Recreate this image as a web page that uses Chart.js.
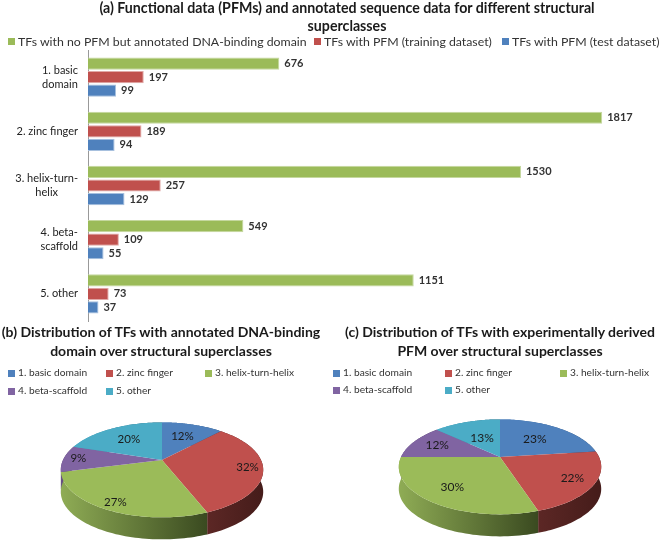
<!DOCTYPE html>
<html>
<head>
<meta charset="utf-8">
<script src="https://cdn.jsdelivr.net/npm/chart.js@4"></script>
<style>
    html, body { margin: 0; background: #fff; overflow: hidden; }
    body { width: 661px; height: 544px; position: relative; font-family: Lato, sans-serif; color: #1a1a1a; }
    canvas { position: absolute; }
    .title { position: absolute; text-align: center; font-weight: bold; white-space: nowrap; z-index: 2; }
    .legend { position: absolute; white-space: nowrap; z-index: 2; color: #333; }
    .legend i { position: absolute; top: 4px; left: 0; width: 7px; height: 7px; }
    .legend span { position: absolute; top: 0; left: 10px; }
</style>
</head>
<body>
<div class="title" style="left:58px;top:-1px;width:578px;font-size:14.2px;line-height:18px">(a) Functional data (PFMs) and annotated sequence data for different structural<br>superclasses</div>
<div class="title" style="left:-1px;top:322px;width:324px;font-size:14px;line-height:19px">(b) Distribution of TFs with annotated DNA-binding<br>domain over structural superclasses</div>
<div class="title" style="left:338px;top:322px;width:324px;font-size:14px;line-height:19px">(c) Distribution of TFs with experimentally derived<br>PFM over structural superclasses</div>
<canvas id="bars" width="661" height="330" style="left:0;top:0"></canvas>
<canvas id="pieB" width="240" height="200" style="left:42px;top:360px"></canvas>
<canvas id="pieC" width="240" height="200" style="left:380px;top:357px"></canvas>
<script>
const categories = ['1. basic domain', '2. zinc finger', '3. helix-turn-helix', '4. beta-scaffold', '5. other'];
const tickLabels = [['1. basic', 'domain'], ['2. zinc finger'], ['3. helix-turn-', 'helix'], ['4. beta-', 'scaffold'], ['5. other']];
const seriesNames = ['TFs with no PFM but annotated DNA-binding domain', 'TFs with PFM (training dataset)', 'TFs with PFM (test dataset)'];
const noPfm = [676, 1817, 1530, 549, 1151];
const training = [197, 189, 257, 109, 73];
const test = [99, 94, 129, 55, 37];
const annotatedShare = [12, 32, 27, 9, 20];
const derivedShare = [23, 22, 30, 12, 13];

const GREEN = '#9bbb59', RED = '#c0504d', BLUE = '#4f81bd', PURPLE = '#8064a2', TEAL = '#4bacc6';
const pieColors = [BLUE, RED, GREEN, PURPLE, TEAL];
const pieWalls = [['#4f81bd', '#24405f'], ['#5c2725', '#451c1a'], ['#8fac55', '#3a4a20'], ['#6a5288', '#3c2e4f'], ['#4bacc6', '#24566a']];

function addLegend(names, colors, xs, ys, font) {
    names.forEach((name, i) => {
        const el = document.createElement('div');
        el.className = 'legend';
        el.style.cssText = `left:${xs[i]}px;top:${ys[i]}px;font-size:${font}px`;
        el.innerHTML = `<i style="background:${colors[i]}"></i><span>${name}</span>`;
        document.body.appendChild(el);
    });
}
addLegend(seriesNames, [GREEN, RED, BLUE], [8, 314, 502], [34, 34, 34], 12.3);
addLegend(categories, pieColors, [8, 106, 205, 8, 106], [366, 366, 366, 384, 384], 10.2);
addLegend(categories, pieColors, [333, 445, 560, 333, 445], [366, 366, 366, 383, 383], 10.2);

// right edge of the label block sits at x=78, lines centred inside it
const yLabels = {
    id: 'yLabels',
    afterDraw(chart) {
        const { ctx, scales: { y } } = chart;
        ctx.save();
        ctx.font = '11px Lato';
        ctx.fillStyle = '#222';
        ctx.textAlign = 'center';
        ctx.textBaseline = 'middle';
        tickLabels.forEach((lines, i) => {
            const w = Math.max(...lines.map(l => ctx.measureText(l).width));
            const top = y.getPixelForTick(i) - (lines.length - 1) * 7;
            lines.forEach((l, j) => ctx.fillText(l, 78 - w / 2, top + j * 14));
        });
        ctx.restore();
    },
};

const barValues = {
    id: 'barValues',
    afterDatasetsDraw(chart) {
        const { ctx } = chart;
        ctx.save();
        ctx.font = 'bold 11px Lato';
        ctx.fillStyle = '#333';
        ctx.textBaseline = 'middle';
        chart.data.datasets.forEach((ds, d) => {
            chart.getDatasetMeta(d).data.forEach((bar, i) => ctx.fillText(ds.data[i], bar.x + 5, bar.y));
        });
        ctx.restore();
    },
};

new Chart(document.getElementById('bars'), {
    type: 'bar',
    data: {
        labels: categories,
        datasets: [
            { label: seriesNames[0], data: noPfm, backgroundColor: GREEN, borderColor: '#c5d89f' },
            { label: seriesNames[1], data: training, backgroundColor: RED, borderColor: '#e0a8a6' },
            { label: seriesNames[2], data: test, backgroundColor: BLUE, borderColor: '#a7c0de' },
        ],
    },
    options: {
        indexAxis: 'y',
        responsive: false,
        animation: false,
        layout: { padding: { left: 80, top: 50, right: 7, bottom: 9 } },
        datasets: { bar: { categoryPercentage: 0.75, barPercentage: 0.9, borderWidth: 1 } },
        plugins: { legend: { display: false }, tooltip: { enabled: false } },
        scales: {
            x: { display: false, min: 0, max: 2000 },
            y: {
                ticks: { display: false },
                grid: { display: false },
                border: { color: '#999' },
            },
        },
    },
    plugins: [yLabels, barValues],
});

// tilted pie: rim points go through a small perspective, so the hub sits above the ellipse centre
function project(arc, angle, frac, tilt, k) {
    const u = Math.cos(angle) * frac, v = Math.sin(angle) * frac;
    const w = 1 - k * v;
    return [arc.x + arc.outerRadius * u / w, arc.y + arc.outerRadius * tilt * v / w];
}

const tiltedPie = {
    id: 'tiltedPie',
    beforeDatasetsDraw(chart, args, opts) {
        const { ctx } = chart;
        const arcs = chart.getDatasetMeta(0).data;
        const { tilt, k, depth } = opts;
        const rim = (arc) => {
            const pts = [];
            for (let n = 0; n <= 60; n++) {
                pts.push(project(arc, arc.startAngle + (arc.endAngle - arc.startAngle) * n / 60, 1, tilt, k));
            }
            return pts;
        };
        arcs.forEach((arc, i) => {
            const pts = rim(arc);
            const xs = pts.map(p => p[0]);
            const grad = ctx.createLinearGradient(Math.min(...xs), 0, Math.max(...xs), 0);
            grad.addColorStop(0, pieWalls[i][0]);
            grad.addColorStop(1, pieWalls[i][1]);
            ctx.beginPath();
            pts.forEach(p => ctx.lineTo(p[0], p[1]));
            pts.slice().reverse().forEach(p => ctx.lineTo(p[0], p[1] + depth));
            ctx.closePath();
            ctx.fillStyle = grad;
            ctx.fill();
        });
        arcs.forEach((arc, i) => {
            ctx.beginPath();
            ctx.moveTo(arc.x, arc.y);
            rim(arc).forEach(p => ctx.lineTo(p[0], p[1]));
            ctx.closePath();
            ctx.fillStyle = pieColors[i];
            ctx.fill();
        });
        ctx.font = `${opts.font}px Lato`;
        ctx.fillStyle = '#1a1a1a';
        ctx.textAlign = 'center';
        ctx.textBaseline = 'middle';
        arcs.forEach((arc, i) => {
            const p = project(arc, (arc.startAngle + arc.endAngle) / 2, opts.labelAt[i], tilt, k);
            ctx.fillText(chart.data.datasets[0].data[i] + '%', p[0], p[1]);
        });
        return false;
    },
};

function drawPie(id, share, labelAt, font) {
    new Chart(document.getElementById(id), {
        type: 'pie',
        data: { labels: categories, datasets: [{ data: share, backgroundColor: pieColors }] },
        options: {
            responsive: false,
            animation: false,
            plugins: {
                legend: { display: false },
                tooltip: { enabled: false },
                tiltedPie: { tilt: 0.459, k: 0.208, depth: 22, labelAt, font },
            },
        },
        plugins: [tiltedPie],
    });
}
drawPie('pieB', annotatedShare, [0.63, 0.85, 0.87, 0.85, 0.63], 11.5);
drawPie('pieC', derivedShare, [0.58, 0.79, 0.72, 0.72, 0.5], 12);
</script>
</body>
</html>
